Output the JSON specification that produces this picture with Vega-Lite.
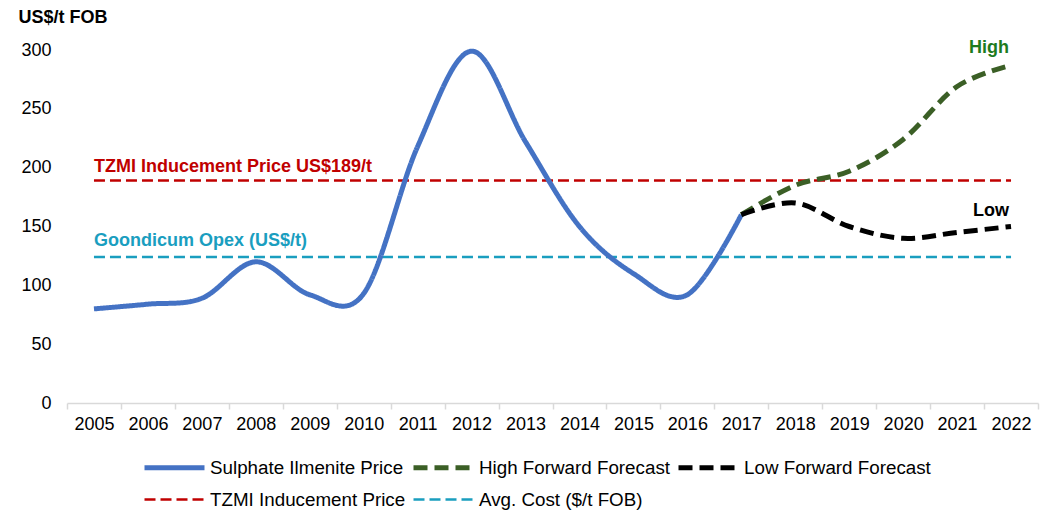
{
  "$schema": "https://vega.github.io/schema/vega-lite/v6.json",
  "width": 971,
  "height": 353,
  "autosize": "none",
  "padding": {"left": 67, "top": 50, "right": 5, "bottom": 107},
  "config": {"font": "Liberation Sans", "view": {"stroke": null}},
  "layer": [
    {
      "data": {"values": [
        {"year": "2005", "series": "TZMI Inducement Price", "value": 189},
        {"year": "2022", "series": "TZMI Inducement Price", "value": 189},
        {"year": "2005", "series": "Avg. Cost ($/t FOB)", "value": 124},
        {"year": "2022", "series": "Avg. Cost ($/t FOB)", "value": 124},
        {"year": "2005", "series": "Sulphate Ilmenite Price", "value": 80},
        {"year": "2006", "series": "Sulphate Ilmenite Price", "value": 84},
        {"year": "2007", "series": "Sulphate Ilmenite Price", "value": 89},
        {"year": "2008", "series": "Sulphate Ilmenite Price", "value": 120},
        {"year": "2009", "series": "Sulphate Ilmenite Price", "value": 92},
        {"year": "2010", "series": "Sulphate Ilmenite Price", "value": 93},
        {"year": "2011", "series": "Sulphate Ilmenite Price", "value": 218},
        {"year": "2012", "series": "Sulphate Ilmenite Price", "value": 299},
        {"year": "2013", "series": "Sulphate Ilmenite Price", "value": 222},
        {"year": "2014", "series": "Sulphate Ilmenite Price", "value": 150},
        {"year": "2015", "series": "Sulphate Ilmenite Price", "value": 110},
        {"year": "2016", "series": "Sulphate Ilmenite Price", "value": 92},
        {"year": "2017", "series": "Sulphate Ilmenite Price", "value": 160},
        {"year": "2017", "series": "High Forward Forecast", "value": 160},
        {"year": "2018", "series": "High Forward Forecast", "value": 185},
        {"year": "2019", "series": "High Forward Forecast", "value": 197},
        {"year": "2020", "series": "High Forward Forecast", "value": 224},
        {"year": "2021", "series": "High Forward Forecast", "value": 269},
        {"year": "2022", "series": "High Forward Forecast", "value": 287},
        {"year": "2017", "series": "Low Forward Forecast", "value": 160},
        {"year": "2018", "series": "Low Forward Forecast", "value": 170},
        {"year": "2019", "series": "Low Forward Forecast", "value": 150},
        {"year": "2020", "series": "Low Forward Forecast", "value": 140},
        {"year": "2021", "series": "Low Forward Forecast", "value": 145},
        {"year": "2022", "series": "Low Forward Forecast", "value": 150}
      ]},
      "mark": {"type": "line", "interpolate": "cardinal", "tension": 0, "strokeCap": "butt"},
      "encoding": {
        "x": {
          "field": "year", "type": "nominal",
          "scale": {"type": "band", "paddingInner": 0, "paddingOuter": 0},
          "axis": {
            "title": null, "labelAngle": 0, "tickBand": "extent",
            "domainColor": "#D9D9D9", "domainWidth": 1.5, "tickColor": "#D9D9D9", "tickWidth": 1.5, "tickSize": 6,
            "labelFontSize": 18, "labelColor": "#000000", "labelPadding": 6
          }
        },
        "y": {
          "field": "value", "type": "quantitative",
          "scale": {"domain": [0, 300], "nice": false},
          "axis": {
            "values": [0, 50, 100, 150, 200, 250, 300],
            "grid": false, "domain": false, "ticks": false,
            "labelFontSize": 18, "labelColor": "#000000", "labelPadding": 16,
            "title": "US$/t FOB", "titleAngle": 0, "titleFontSize": 18, "titleFontWeight": "bold",
            "titleColor": "#000000", "titleAlign": "left", "titleBaseline": "middle", "titleX": -49, "titleY": -33
          }
        },
        "color": {
          "field": "series", "type": "nominal",
          "scale": {
            "domain": ["Sulphate Ilmenite Price", "High Forward Forecast", "Low Forward Forecast", "TZMI Inducement Price", "Avg. Cost ($/t FOB)"],
            "range": ["#4472C4", "#3B5F26", "#000000", "#C00000", "#1A9EBF"]
          },
          "legend": {
            "title": null, "orient": "none", "legendX": 75, "legendY": 405, "direction": "horizontal", "columns": 3,
            "symbolType": "M-1,0H5", "symbolSize": 400, "labelFontSize": 18.8, "labelColor": "#000000", "labelLimit": 400,
            "labelOffset": 43, "columnPadding": -3, "rowPadding": 10
          }
        },
        "strokeDash": {
          "field": "series", "type": "nominal",
          "scale": {
            "domain": ["Sulphate Ilmenite Price", "High Forward Forecast", "Low Forward Forecast", "TZMI Inducement Price", "Avg. Cost ($/t FOB)"],
            "range": [[1, 0], [14, 7], [14, 7], [11, 5], [11, 5]]
          }
        },
        "strokeWidth": {
          "field": "series", "type": "nominal",
          "scale": {
            "type": "ordinal",
            "domain": ["Sulphate Ilmenite Price", "High Forward Forecast", "Low Forward Forecast", "TZMI Inducement Price", "Avg. Cost ($/t FOB)"],
            "range": [5, 5, 5, 2.5, 2.5]
          }
        }
      }
    },
    {
      "data": {"values": [{"year": "2005", "value": 189, "label": "TZMI Inducement Price US$189/t"}]},
      "mark": {"type": "text", "align": "left", "baseline": "middle", "dy": -14, "fontSize": 18, "fontWeight": "bold", "color": "#C00000"},
      "encoding": {"x": {"field": "year", "type": "nominal"}, "y": {"field": "value", "type": "quantitative"}, "text": {"field": "label"}}
    },
    {
      "data": {"values": [{"year": "2005", "value": 124, "label": "Goondicum Opex (US$/t)"}]},
      "mark": {"type": "text", "align": "left", "baseline": "middle", "dy": -16, "fontSize": 18, "fontWeight": "bold", "color": "#1A9EBF"},
      "encoding": {"x": {"field": "year", "type": "nominal"}, "y": {"field": "value", "type": "quantitative"}, "text": {"field": "label"}}
    },
    {
      "data": {"values": [{"year": "2022", "value": 287, "label": "High"}]},
      "mark": {"type": "text", "align": "right", "baseline": "middle", "dx": -2, "dy": -17, "fontSize": 18, "fontWeight": "bold", "color": "#1E7B1E"},
      "encoding": {"x": {"field": "year", "type": "nominal"}, "y": {"field": "value", "type": "quantitative"}, "text": {"field": "label"}}
    },
    {
      "data": {"values": [{"year": "2022", "value": 150, "label": "Low"}]},
      "mark": {"type": "text", "align": "right", "baseline": "middle", "dx": -2, "dy": -16, "fontSize": 18, "fontWeight": "bold", "color": "#000000"},
      "encoding": {"x": {"field": "year", "type": "nominal"}, "y": {"field": "value", "type": "quantitative"}, "text": {"field": "label"}}
    }
  ]
}
